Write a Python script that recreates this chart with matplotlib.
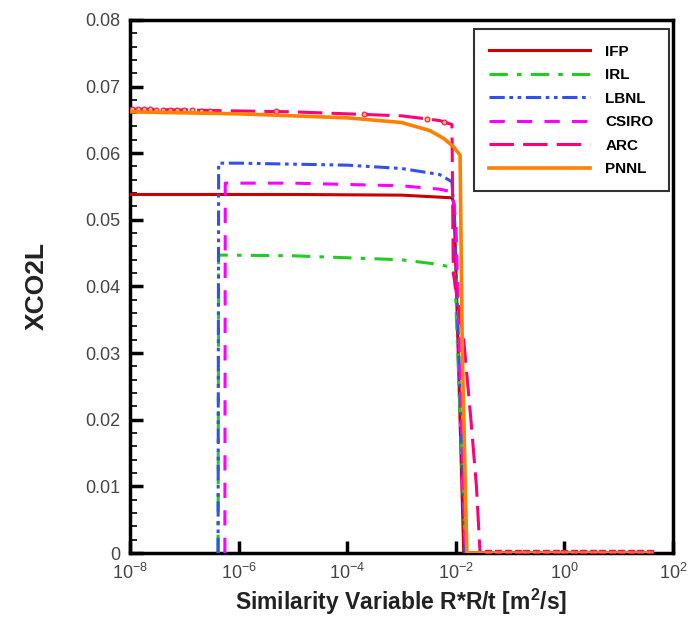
import math
import matplotlib
matplotlib.use("Agg")
import matplotlib.pyplot as plt
from matplotlib.ticker import FixedLocator, MultipleLocator, FuncFormatter

plt.rcParams['font.family'] = ['Liberation Sans', 'DejaVu Sans']
plt.rcParams['mathtext.default'] = 'regular'

# ---- data ----
ifp_x = [1e-8, 1e-5, 1e-3, 8.5e-3, 9.3e-3, 1.4e-2, 40]
ifp_y = [0.0538, 0.0538, 0.0537, 0.0533, 0.0525, 0.0, 0.0]

irl_x = [4.2e-7, 4.3e-7, 5.6e-7, 1e-5, 1e-3, 5e-3, 8.8e-3, 9.6e-3, 1.5e-2, 40]
irl_y = [0.0, 0.0447, 0.0447, 0.0446, 0.0440, 0.0433, 0.0428, 0.0415, 0.0, 0.0]

lbnl_x = [4.2e-7, 4.3e-7, 1e-6, 1e-4, 1e-3, 5e-3, 8.5e-3, 9.5e-3, 1.5e-2, 40]
lbnl_y = [0.0, 0.0585, 0.0585, 0.0582, 0.0577, 0.0568, 0.0557, 0.050, 0.0, 0.0]

csiro_x = [5.6e-7, 5.7e-7, 1e-5, 1e-3, 5e-3, 8.5e-3, 1e-2, 1.5e-2, 40]
csiro_y = [0.0, 0.0555, 0.0555, 0.0551, 0.0546, 0.0542, 0.050, 0.0, 0.0]

arc_x = [1e-8, 1e-5, 1e-3, 5e-3, 8.5e-3, 9.0e-3, 1.4e-2, 1.9e-2, 2.4e-2, 2.8e-2, 40]
arc_y = [0.0666, 0.0662, 0.0656, 0.0649, 0.0643, 0.042, 0.032, 0.020, 0.010, 0.0, 0.0]

arc_top_mx = [1.1e-8, 1.4e-8, 1.8e-8, 2.3e-8, 3e-8, 4e-8, 5.5e-8, 7.5e-8, 1e-7, 1.4e-7, 2e-7, 3e-7, 5e-6, 2e-4, 3e-3, 6e-3]
arc_top_my = [0.0666, 0.0666, 0.0666, 0.0666, 0.0665, 0.0665, 0.0665, 0.0665, 0.0665, 0.0665, 0.0664, 0.0664, 0.0663, 0.0659, 0.0651, 0.0646]
arc_tail_mx = [0.04, 0.06, 0.09, 0.14, 0.2, 0.3, 0.45, 0.7, 1.0, 1.5, 2.2, 3.3, 5, 7.5, 11, 17, 25, 38]

pnnl_x = [1e-8, 1e-6, 1e-4, 1e-3, 3.3e-3, 6e-3, 9e-3, 1.2e-2, 1.32e-2, 1.6e-2, 40]
pnnl_y = [0.0662, 0.0659, 0.0653, 0.0646, 0.0634, 0.0622, 0.0610, 0.0597, 0.030, 0.0, 0.0]

labels = ['IFP', 'IRL', 'LBNL', 'CSIRO', 'ARC', 'PNNL']
colors = ['#cc0000', '#22cc22', '#3050f0', '#ff00ff', '#ff0077', '#ff8000']
xticks = [1e-8, 1e-6, 1e-4, 1e-2, 1e0, 1e2]

fig = plt.figure(figsize=(6.91, 6.21), dpi=100)
ax = fig.add_axes([0.188, 0.1095, 0.786, 0.8585])

lw = 2.2
ax.plot(ifp_x, ifp_y, color=colors[0], lw=lw, label=labels[0], zorder=3)
ax.plot(irl_x, irl_y, color=colors[1], lw=lw, dashes=(6, 3, 1.5, 3), label=labels[1], zorder=3)
ax.plot(lbnl_x, lbnl_y, color=colors[2], lw=lw, dashes=(5, 1.5, 1.2, 1.5, 1.2, 1.5), label=labels[2], zorder=3)
ax.plot(csiro_x, csiro_y, color=colors[3], lw=lw, dashes=(5, 4), label=labels[3], zorder=3)
ax.plot(arc_x, arc_y, color=colors[4], lw=lw, dashes=(8, 3), label=labels[4], zorder=3)
ax.plot(arc_top_mx, arc_top_my, ls='none', marker='o', ms=3.5, mfc='#ffcc33', mec=colors[4], mew=0.8, zorder=4)
ax.plot(arc_tail_mx, [0.0] * len(arc_tail_mx), ls='none', marker='s', ms=4, color=colors[4], zorder=4)
ax.plot(pnnl_x, pnnl_y, color=colors[5], lw=2.6, label=labels[5], zorder=5)

ax.set_xscale('log')
ax.set_xlim(1e-8, 1e2)
ax.set_ylim(0, 0.08)

ax.xaxis.set_major_locator(FixedLocator(xticks))
ax.xaxis.set_minor_locator(FixedLocator([]))
ax.xaxis.set_major_formatter(FuncFormatter(lambda v, p: r'$10^{%d}$' % round(math.log10(v))))
ax.yaxis.set_major_locator(MultipleLocator(0.01))
ax.yaxis.set_minor_locator(MultipleLocator(0.002))
ax.yaxis.set_major_formatter(FuncFormatter(lambda v, p: '0' if abs(v) < 1e-9 else '%.2f' % v))

ax.tick_params(axis='both', which='major', direction='in', length=9, width=2.5,
               labelsize=13, labelcolor='#444444')
ax.tick_params(axis='x', which='major', pad=7)
ax.tick_params(axis='y', which='major', pad=7)
ax.tick_params(axis='y', which='minor', direction='in', length=5, width=1.2)
for s in ax.spines.values():
    s.set_linewidth(2.5)

ax.set_xlabel('Similarity Variable R*R/t [m$^2$/s]', fontsize=16.5, fontweight='bold', color='#222222', labelpad=3)
ax.set_ylabel('XCO2L', fontsize=19, fontweight='bold', color='#222222', labelpad=26)

leg = ax.legend(loc='upper right', bbox_to_anchor=(0.992, 0.982), handlelength=6.6, handletextpad=1.0,
                prop={'weight': 'bold', 'size': 11}, frameon=True, fancybox=False,
                edgecolor='#333333', framealpha=1.0, borderpad=1.0, labelspacing=0.62,
                borderaxespad=0.0)
leg.get_frame().set_linewidth(1.5)

fig.savefig('out.png', dpi=100)
